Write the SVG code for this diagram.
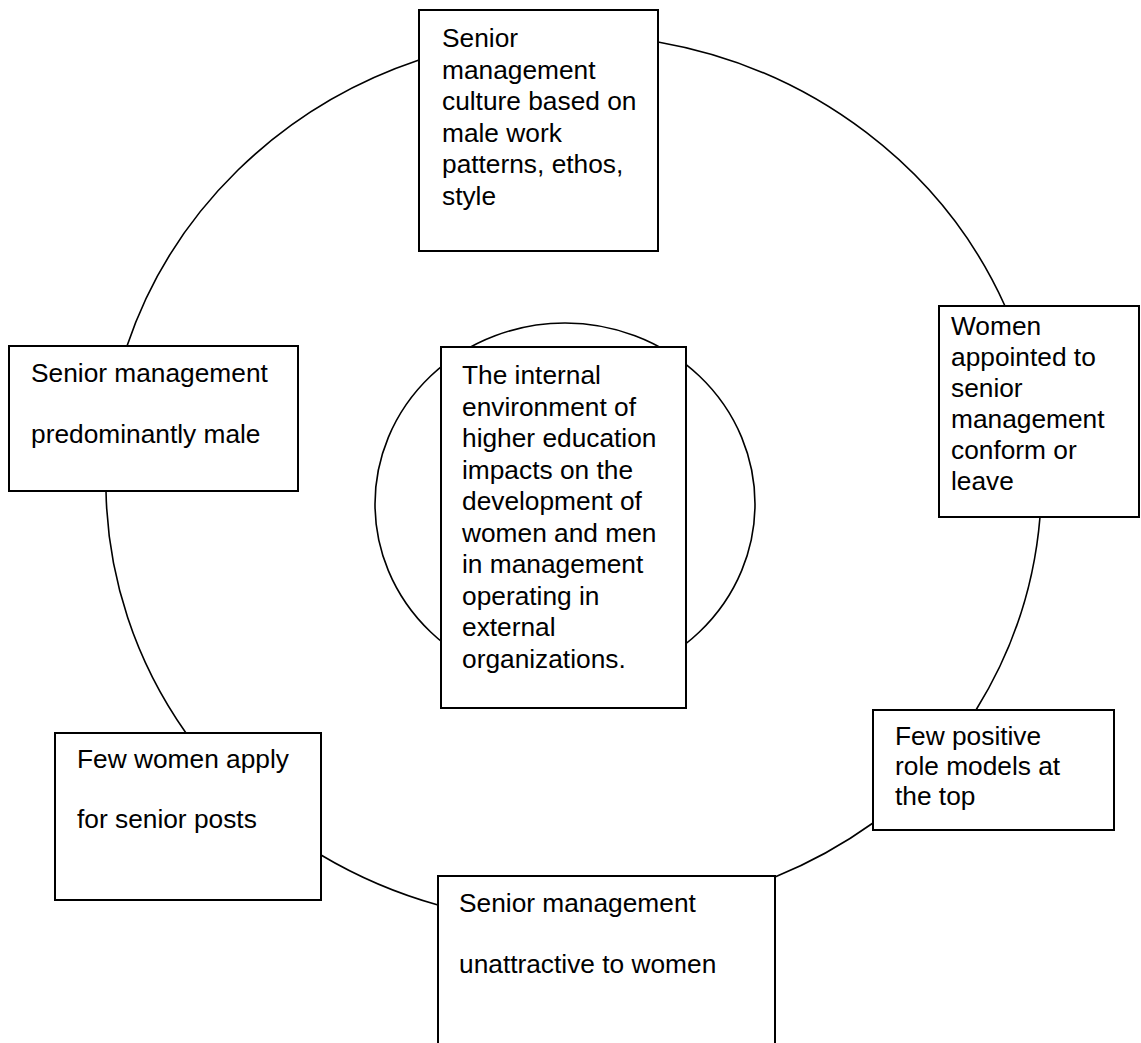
<svg xmlns="http://www.w3.org/2000/svg" width="1141" height="1043" viewBox="0 0 1141 1043">
  <style>
    .box { fill: #ffffff; stroke: #000000; stroke-width: 2; }
    .ring { fill: none; stroke: #000000; stroke-width: 1.6; }
    .label { font-family: "Liberation Sans", Arial, sans-serif; font-size: 26.3px; fill: #000000; }
  </style>
  <rect width="1141" height="1043" fill="#ffffff"/>

  <!-- outer cycle: arc segments joining the boxes clockwise -->
  <g id="connectors">
    <path class="ring" d="M 658 42 A 470 448 0 0 1 1005 306"/>
    <path class="ring" d="M 1040 517 A 470 448 0 0 1 976 710"/>
    <path class="ring" d="M 873 823 A 470 448 0 0 1 775 877"/>
    <path class="ring" d="M 438 905 A 470 448 0 0 1 321 855"/>
    <path class="ring" d="M 186 733 A 470 448 0 0 1 106 491"/>
    <path class="ring" d="M 127 346 A 470 448 0 0 1 419 60"/>
  </g>

  <g id="node-top">
    <rect class="box" x="419" y="10" width="239" height="241"/>
    <text class="label">
      <tspan x="442" y="47">Senior</tspan>
      <tspan x="442" y="78.5">management</tspan>
      <tspan x="442" y="110">culture based on</tspan>
      <tspan x="442" y="141.5">male work</tspan>
      <tspan x="442" y="173">patterns, ethos,</tspan>
      <tspan x="442" y="204.5">style</tspan>
    </text>
  </g>

  <g id="node-right">
    <rect class="box" x="939" y="306" width="200" height="211"/>
    <text class="label">
      <tspan x="951" y="335">Women</tspan>
      <tspan x="951" y="366">appointed to</tspan>
      <tspan x="951" y="397">senior</tspan>
      <tspan x="951" y="428">management</tspan>
      <tspan x="951" y="459">conform or</tspan>
      <tspan x="951" y="490">leave</tspan>
    </text>
  </g>

  <g id="node-role-models">
    <rect class="box" x="873" y="710" width="241" height="120"/>
    <text class="label">
      <tspan x="895" y="745">Few positive</tspan>
      <tspan x="895" y="775">role models at</tspan>
      <tspan x="895" y="805">the top</tspan>
    </text>
  </g>

  <g id="node-bottom">
    <rect class="box" x="438" y="876" width="337" height="200"/>
    <text class="label">
      <tspan x="459" y="912">Senior management</tspan>
      <tspan x="459" y="973">unattractive to women</tspan>
    </text>
  </g>

  <g id="node-apply">
    <rect class="box" x="55" y="733" width="266" height="167"/>
    <text class="label">
      <tspan x="77" y="768">Few women apply</tspan>
      <tspan x="77" y="828">for senior posts</tspan>
    </text>
  </g>

  <g id="node-left">
    <rect class="box" x="9" y="346" width="289" height="145"/>
    <text class="label">
      <tspan x="31" y="382">Senior management</tspan>
      <tspan x="31" y="443">predominantly male</tspan>
    </text>
  </g>

  <!-- centre: small ring behind the central statement -->
  <g id="node-centre">
    <ellipse class="ring" cx="565" cy="504" rx="190" ry="181"/>
    <rect class="box" x="441" y="347" width="245" height="361"/>
    <text class="label">
      <tspan x="462" y="384">The internal</tspan>
      <tspan x="462" y="415.5">environment of</tspan>
      <tspan x="462" y="447">higher education</tspan>
      <tspan x="462" y="478.5">impacts on the</tspan>
      <tspan x="462" y="510">development of</tspan>
      <tspan x="462" y="541.5">women and men</tspan>
      <tspan x="462" y="573">in management</tspan>
      <tspan x="462" y="604.5">operating in</tspan>
      <tspan x="462" y="636">external</tspan>
      <tspan x="462" y="667.5">organizations.</tspan>
    </text>
  </g>
</svg>
